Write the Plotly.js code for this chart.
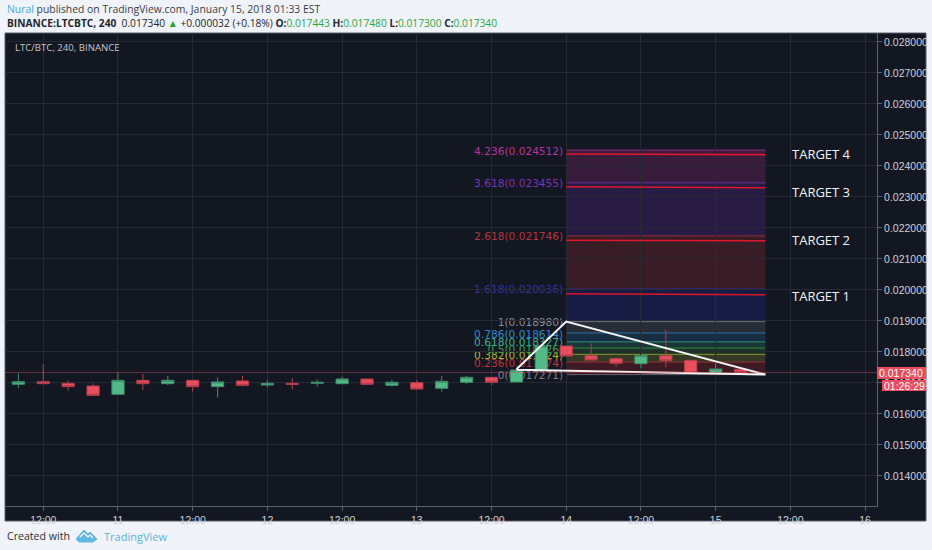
<!DOCTYPE html>
<html>
<head>
<meta charset="utf-8">
<script src="https://cdn.plot.ly/plotly-3.0.1.min.js"></script>
<style>html,body{margin:0;padding:0;background:#f0f3fa;}#c{width:932px;height:550px;}</style>
</head>
<body>
<div id="c"></div>
<script>
var candleTimes = ['2018-01-10 08:00','2018-01-10 12:00','2018-01-10 16:00','2018-01-10 20:00','2018-01-11 00:00','2018-01-11 04:00','2018-01-11 08:00','2018-01-11 12:00','2018-01-11 16:00','2018-01-11 20:00','2018-01-12 00:00','2018-01-12 04:00','2018-01-12 08:00','2018-01-12 12:00','2018-01-12 16:00','2018-01-12 20:00','2018-01-13 00:00','2018-01-13 04:00','2018-01-13 08:00','2018-01-13 12:00','2018-01-13 16:00','2018-01-13 20:00','2018-01-14 00:00','2018-01-14 04:00','2018-01-14 08:00','2018-01-14 12:00','2018-01-14 16:00','2018-01-14 20:00','2018-01-15 00:00','2018-01-15 04:00'];
var opens  = [.016957,.017043,.016989,.016903,.016634,.017086,.016978,.017086,.016882,.017065,.016935,.016989,.016989,.016978,.017129,.016925,.017011,.016828,.017022,.017183,.017032,.017419,.018194,.017882,.017785,.017624,.017882,.017731,.017333,.017443];
var highs  = [.017312,.017613,.017075,.016989,.017344,.017290,.017226,.017086,.017183,.017226,.017097,.017151,.017118,.017204,.017129,.017097,.017097,.017226,.017226,.017183,.017419,.018194,.018194,.018280,.017785,.017882,.018710,.017731,.017634,.017480];
var lows   = [.016828,.016957,.016753,.016602,.016634,.016774,.016935,.016720,.016527,.016882,.016860,.016796,.016882,.016957,.016957,.016882,.016796,.016720,.016968,.016935,.017032,.017419,.017871,.017742,.017527,.017473,.017505,.017323,.017312,.017300];
var closes = [.017043,.016978,.016882,.016602,.017086,.016978,.017086,.016882,.017032,.016925,.016989,.016957,.017022,.017129,.016957,.017022,.016806,.017054,.017183,.017022,.017419,.018194,.017871,.017742,.017634,.017882,.017720,.017323,.017452,.017340];

var fibRatios = ['0','0.236','0.382','0.5','0.618','0.786','1','1.618','2.618','3.618','4.236'];
var fibPrices = [.017271,.017674,.017924,.018126,.018327,.018614,.018980,.020036,.021746,.023455,.024512];
var fibColors = ['#787b86','#c0303c','#a8b52f','#3f9e3f','#3ab08c','#2f88c4','#8a8d96','#3033a8','#b5353c','#7d33bd','#b8349a'];
var fibBands  = ['120,123,134','220,40,50','170,180,50','60,160,60','50,170,130','40,130,190','120,123,134','40,50,190','190,50,55','120,50,190','190,50,150'];
var fibStart = '2018-01-14 00:00';
var fibEnd = '2018-01-15 08:00';

var triangleX = ['2018-01-13 16:00','2018-01-14 00:00','2018-01-15 08:00','2018-01-13 16:00'];
var triangleY = [.017442,.018980,.017271,.017430];

var targetNames = ['TARGET 1','TARGET 2','TARGET 3','TARGET 4'];
var targetLeft  = [.019881,.021603,.023332,.024387];
var targetRight = [.019848,.021590,.023300,.024365];
var targetLabelY = [.019805,.021615,.023160,.024385];

var lastPrice = .017340;
var xTickVals = ['2018-01-10 12:00','2018-01-11 00:00','2018-01-11 12:00','2018-01-12 00:00','2018-01-12 12:00','2018-01-13 00:00','2018-01-13 12:00','2018-01-14 00:00','2018-01-14 12:00','2018-01-15 00:00','2018-01-15 12:00','2018-01-16 00:00'];
var xTickText = ['12:00','11','12:00','12','12:00','13','12:00','14','12:00','15','12:00','16'];

var W = 932, H = 550, L = 5, R = 877, T = 33, B = 506;
function px(x){ return (x - L) / (R - L); }
function py(y){ return (B - y) / (B - T); }

var UI = '"Open Sans", sans-serif';
var up = '#53b987', down = '#eb4d5c';

var shapes = [];
// dark chart frame behind the plot
shapes.push({type:'rect', xref:'paper', yref:'paper', x0:px(5), x1:px(926), y0:py(521), y1:py(33), fillcolor:'#131722', line:{color:'#5a5f6b', width:1}, layer:'below'});
// fibonacci bands and levels
for (var i = 0; i < fibPrices.length - 1; i++) {
  shapes.push({type:'rect', xref:'x', yref:'y', x0:fibStart, x1:fibEnd, y0:fibPrices[i], y1:fibPrices[i+1], fillcolor:'rgba(' + fibBands[i+1] + ',0.22)', line:{width:0}, layer:'below'});
}
for (var j = 0; j < fibPrices.length; j++) {
  shapes.push({type:'line', xref:'x', yref:'y', x0:fibStart, x1:fibEnd, y0:fibPrices[j], y1:fibPrices[j], line:{color:fibColors[j], width:1}, opacity:0.75, layer:'below',
    label:{text:fibRatios[j] + '(' + fibPrices[j].toFixed(6) + ')', textposition:'start', textangle:0, xanchor:'right', yanchor:'middle', padding:3, font:{family:'"DejaVu Sans"', size:10.6, color:fibColors[j]}}});
}
// last price line
shapes.push({type:'line', xref:'paper', yref:'y', x0:0, x1:1, y0:lastPrice, y1:lastPrice, line:{color:'rgba(235,77,92,0.4)', width:1}});
// tags on the price axis
shapes.push({type:'rect', xref:'paper', yref:'paper', x0:px(877), x1:px(926), y0:py(379), y1:py(367), fillcolor:down, line:{width:0}});
shapes.push({type:'rect', xref:'paper', yref:'paper', x0:px(882), x1:px(926), y0:py(391), y1:py(380), fillcolor:down, line:{width:0}});
// TradingView logo
function logoPath(){
  var p = [[76,539],[84,530],[88,534],[90,532],[97,539],[93,542],[79,542]];
  var q = [[80,537],[84,533],[88,537],[90,535],[93,538]];
  return {a:p, b:q};
}
var lg = logoPath();
function toPath(a, close){ return a.map(function(c,i){ return (i?'L':'M') + px(c[0]) + ',' + py(c[1]); }).join(' ') + (close?' Z':''); }
shapes.push({type:'path', xref:'paper', yref:'paper', path:toPath(lg.a,true), fillcolor:'#5fb8e0', line:{color:'#5fb8e0', width:1}});
shapes.push({type:'path', xref:'paper', yref:'paper', path:toPath(lg.b,false), line:{color:'#f0f3fa', width:1.4}});

var traces = [
  {type:'candlestick', x:candleTimes, open:opens, high:highs, low:lows, close:closes,
   increasing:{line:{color:'#3f8f6b', width:1}, fillcolor:up},
   decreasing:{line:{color:'#b23f4c', width:1}, fillcolor:down},
   hoverinfo:'skip', showlegend:false},
  {type:'scatter', mode:'lines', x:triangleX, y:triangleY, line:{color:'#f4f4f6', width:2}, hoverinfo:'skip', showlegend:false}
];
targetNames.forEach(function(n, k){
  traces.push({type:'scatter', mode:'lines', x:[fibStart, fibEnd], y:[targetLeft[k], targetRight[k]], line:{color:'#e0162b', width:1.6}, hoverinfo:'skip', showlegend:false});
});

var annotations = [
  {xref:'paper', yref:'paper', x:px(5), y:py(9), xanchor:'left', yanchor:'middle', showarrow:false, align:'left',
   text:'<span style="color:#45a8e0">Nural</span> published on TradingView.com, January 15, 2018 01:33 EST',
   font:{family:UI, size:10.4, color:'#3a3e48'}},
  {xref:'paper', yref:'paper', x:px(5), y:py(23), xanchor:'left', yanchor:'middle', showarrow:false, align:'left',
   text:'<b>BINANCE:LTCBTC, 240</b>  0.017340 <span style="color:#1fa83a">▲</span> +0.000032 (+0.18%) <b>O:</b><span style="color:#2aa83f">0.017443</span> <b>H:</b><span style="color:#2aa83f">0.017480</span> <b>L:</b><span style="color:#2aa83f">0.017300</span> <b>C:</b><span style="color:#2aa83f">0.017340</span>',
   font:{family:UI, size:10.2, color:'#23262e'}},
  {xref:'paper', yref:'paper', x:px(13), y:py(47), xanchor:'left', yanchor:'middle', showarrow:false,
   text:'LTC/BTC, 240, BINANCE', font:{family:UI, size:9.6, color:'#c4c6cc'}},
  {xref:'paper', yref:'paper', x:px(901.5), y:py(372.8), xanchor:'center', yanchor:'middle', showarrow:false,
   text:'0.017340', font:{family:'"Liberation Sans"', size:10.5, color:'#ffffff'}},
  {xref:'paper', yref:'paper', x:px(904), y:py(385.5), xanchor:'center', yanchor:'middle', showarrow:false,
   text:'01:26:29', font:{family:'"Liberation Sans"', size:10.5, color:'#ffffff'}},
  {xref:'paper', yref:'paper', x:px(5), y:py(536), xanchor:'left', yanchor:'middle', showarrow:false,
   text:'Created with', font:{family:UI, size:10.6, color:'#2b2e36'}},
  {xref:'paper', yref:'paper', x:px(102), y:py(536), xanchor:'left', yanchor:'middle', showarrow:false,
   text:'TradingView', font:{family:UI, size:11, color:'#5ab4de'}}
];
targetNames.forEach(function(n, k){
  annotations.push({xref:'x', yref:'y', x:'2018-01-15 12:00', y:targetLabelY[k], xanchor:'left', yanchor:'middle', showarrow:false, text:n, font:{family:UI, size:13, color:'#f2f3f5'}});
});

var layout = {
  width:W, height:H, autosize:false,
  margin:{l:L, r:W-R, t:T, b:H-B, pad:0},
  paper_bgcolor:'#f0f3fa', plot_bgcolor:'#131722', showlegend:false,
  xaxis:{type:'date', range:['2018-01-10 05:51','2018-01-16 01:55'], rangeslider:{visible:false},
    tickmode:'array', tickvals:xTickVals, ticktext:xTickText, ticks:'outside', ticklen:4, tickcolor:'#5a5f6b',
    tickfont:{family:'"Liberation Sans"', size:10.5, color:'#d0d2d8'}, gridcolor:'#262a35', gridwidth:1,
    showline:true, linecolor:'#5a5f6b', linewidth:1, zeroline:false},
  yaxis:{side:'right', range:[0.013032,0.02829], dtick:0.001, tick0:0.013, tickformat:'.6f', ticks:'outside', ticklen:4, tickcolor:'#5a5f6b',
    tickfont:{family:'"Liberation Sans"', size:10.5, color:'#d0d2d8'}, gridcolor:'#262a35', gridwidth:1,
    showline:true, linecolor:'#5a5f6b', linewidth:1, zeroline:false},
  shapes:shapes, annotations:annotations
};
Plotly.newPlot('c', traces, layout, {displayModeBar:false, staticPlot:true});
</script>
</body>
</html>
